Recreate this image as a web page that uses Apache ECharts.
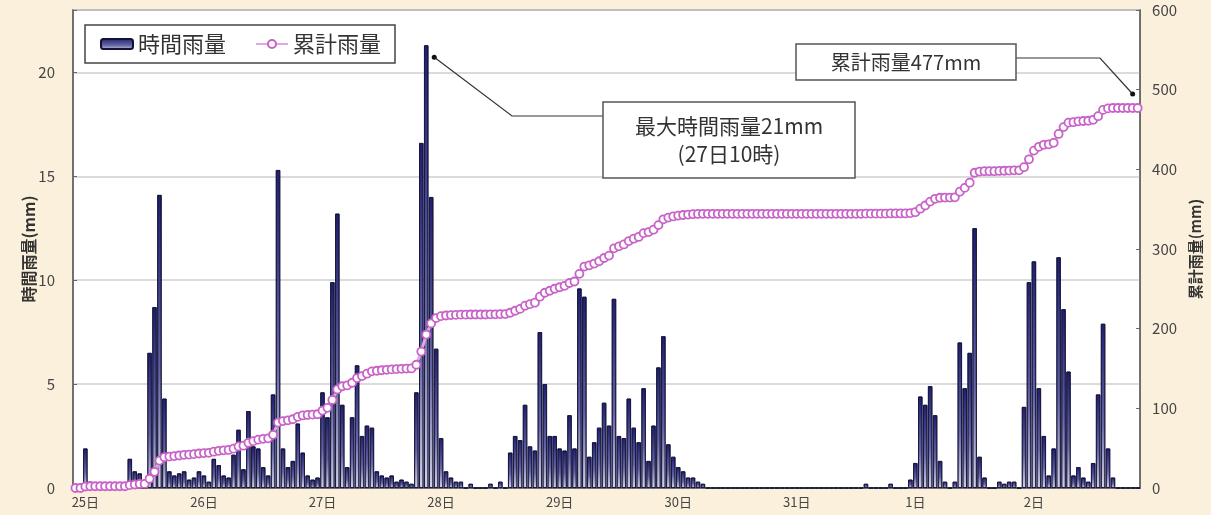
<!DOCTYPE html>
<html>
<head>
<meta charset="utf-8">
<script src="https://cdn.jsdelivr.net/npm/echarts@6/dist/echarts.min.js"></script>
<style>
html,body{margin:0;padding:0;background:#FBF0DB;}
#main{width:1211px;height:515px;}
</style>
</head>
<body>
<div id="main"></div>
<script>
// ---- tick labels / categories ----
const dayLabels = ['25日','26日','27日','28日','29日','30日','31日','1日','2日'];
const hoursPerDay = 24;

// ---- hourly rainfall (mm), one array per day ----
const rain25 = [0,0,1.9,0.3,0,0,0,0,0,0,0,1.4,0.8,0.7,0,6.5,8.7,14.1,4.3,0.8,0.6,0.7,0.8,0.4];
const rain26 = [0.5,0.8,0.6,0.3,1.4,1.1,0.6,0.5,1.6,2.8,0.9,3.7,2.0,1.9,1.0,0.6,4.5,15.3,1.9,1.0,1.3,3.1,1.7,0.6];
const rain27 = [0.4,0.5,4.6,3.4,9.9,13.2,4.0,1.0,3.4,5.9,2.5,3.0,2.9,0.8,0.6,0.5,0.6,0.3,0.4,0.3,0.2,4.6,16.6,21.3];
const rain28 = [14.0,6.7,2.4,0.8,0.5,0.3,0.3,0,0.2,0,0,0,0.2,0,0.3,0,1.7,2.5,2.3,4.0,2.0,1.8,7.5,5.0];
const rain29 = [2.5,2.5,1.9,1.8,3.5,1.9,9.6,9.2,1.5,2.2,2.9,4.1,3.0,9.1,2.5,2.4,4.3,2.9,2.2,4.8,1.3,3.0,5.8,7.3];
const rain30 = [2.1,1.5,1.0,0.8,0.5,0.5,0.3,0.2,0,0,0,0,0,0,0,0,0,0,0,0,0,0,0,0];
const rain31 = [0,0,0,0,0,0,0,0,0,0,0,0,0,0,0,0,0.2,0,0,0,0,0.2,0,0];
const rain01 = [0,0.4,1.2,4.4,4.0,4.9,3.5,1.3,0.3,0,0.3,7.0,4.8,6.5,12.5,1.5,0.5,0,0,0.3,0.2,0.3,0.3,0];
const rain02 = [3.9,9.9,10.9,4.8,2.5,0.6,1.9,11.1,8.6,5.6,0.6,1.0,0.5,0.3,1.2,4.5,7.9,1.9,0.5,0,0,0,0,0];

// ---- cumulative rainfall (mm) ----
const cum25 = [0,0,1.9,2.2,2.2,2.2,2.2,2.2,2.2,2.2,2.2,3.6,4.4,5.1,5.1,11.6,20.3,34.4,38.7,39.5,40.1,40.8,41.6,42.0];
const cum26 = [42.5,43.3,43.9,44.2,45.6,46.7,47.3,47.8,49.4,52.2,53.1,56.8,58.8,60.7,61.7,62.3,66.8,82.1,84.0,85.0,86.3,89.4,91.1,91.7];
const cum27 = [92.1,92.6,97.2,100.6,110.5,123.7,127.7,128.7,132.1,138.0,140.5,143.5,146.4,147.2,147.8,148.3,148.9,149.2,149.6,149.9,150.1,154.7,171.3,192.6];
const cum28 = [206.6,213.3,215.7,216.5,217.0,217.3,217.6,217.6,217.8,217.8,217.8,217.8,218.0,218.0,218.3,218.3,220.0,222.5,224.8,228.8,230.8,232.6,240.1,245.1];
const cum29 = [247.6,250.1,252.0,253.8,257.3,259.2,268.8,278.0,279.5,281.7,284.6,288.7,291.7,300.8,303.3,305.7,310.0,312.9,315.1,319.9,321.2,324.2,330.0,337.3];
const cum30 = [339.4,340.9,341.9,342.7,343.2,343.7,344.0,344.2,344.2,344.2,344.2,344.2,344.2,344.2,344.2,344.2,344.2,344.2,344.2,344.2,344.2,344.2,344.2,344.2];
const cum31 = [344.2,344.2,344.2,344.2,344.2,344.2,344.2,344.2,344.2,344.2,344.2,344.2,344.2,344.2,344.2,344.2,344.4,344.4,344.4,344.4,344.4,344.6,344.6,344.6];
const cum01 = [344.6,345.0,346.2,350.6,354.6,359.5,363.0,364.3,364.6,364.6,364.9,371.9,376.7,383.2,395.7,397.2,397.7,397.7,397.7,398.0,398.2,398.5,398.8,398.8];
const cum02 = [402.7,412.6,423.5,428.3,430.8,431.4,433.3,444.4,453.0,458.6,459.2,460.2,460.7,461.0,462.2,466.7,474.6,476.5,477.0,477.0,477.0,477.0,477.0,477.0];

const seriesNames = ['時間雨量','累計雨量'];
const leftAxisName = '時間雨量(mm)';
const rightAxisName = '累計雨量(mm)';
const noteMax = '最大時間雨量21mm\n(27日10時)';
const noteTotal = '累計雨量477mm';

const hourly = [].concat(rain25,rain26,rain27,rain28,rain29,rain30,rain31,rain01,rain02);
const cumulative = [].concat(cum25,cum26,cum27,cum28,cum29,cum30,cum31,cum01,cum02);
const categories = [];
dayLabels.forEach(d => { for (let h = 0; h < hoursPerDay; h++) categories.push(d + h + '時'); });

const FONT = '"Noto Sans CJK JP", "Noto Sans", sans-serif';

const chart = echarts.init(document.getElementById('main'));
const option = {
  backgroundColor: '#FBF0DB',
  animation: false,
  textStyle: { fontFamily: FONT },
  grid: {
    left: 73, right: 63, top: 10, bottom: 27,
    show: true, backgroundColor: '#ffffff', borderColor: '#6e6e6e', borderWidth: 1.5
  },
  legend: {
    left: 85, top: 25,
    padding: [8, 14, 8, 15],
    backgroundColor: '#ffffff',
    borderColor: '#444', borderWidth: 1.5,
    itemWidth: 32, itemHeight: 10, itemGap: 29,
    textStyle: { fontSize: 22, color: '#333', fontFamily: FONT },
    data: seriesNames
  },
  xAxis: {
    type: 'category',
    data: categories,
    axisLine: { lineStyle: { color: '#666', width: 1.5 } },
    axisTick: { show: false },
    axisLabel: {
      interval: (idx) => idx % hoursPerDay === 2,
      formatter: (v) => v.split('日')[0] + '日',
      fontSize: 13, color: '#444', margin: 8, fontFamily: FONT
    }
  },
  yAxis: [
    {
      type: 'value', min: 0, max: 23, interval: 5,
      name: leftAxisName, nameLocation: 'middle', nameRotate: 90, nameGap: 36,
      nameMoveOverlap: false,
      nameTextStyle: { fontSize: 16, color: '#333', fontWeight: 'bold', fontFamily: FONT },
      axisLine: { show: true, lineStyle: { color: '#666', width: 1.5 } },
      axisTick: { show: true, inside: true, length: 4, lineStyle: { color: '#666' } },
      axisLabel: { fontSize: 15, color: '#444', margin: 18, formatter: v => (v % 5 === 0 ? v : '') },
      splitLine: { show: true, lineStyle: { color: '#cfcfcf', width: 1.5 } }
    },
    {
      type: 'value', min: 0, max: 600, interval: 100,
      name: rightAxisName, nameLocation: 'middle', nameRotate: 90, nameGap: 47,
      nameTextStyle: { fontSize: 15, color: '#333', fontWeight: 'bold', fontFamily: FONT },
      axisLine: { show: true, lineStyle: { color: '#666', width: 1.5 } },
      axisTick: { show: true, inside: true, length: 4, lineStyle: { color: '#666' } },
      axisLabel: { fontSize: 15, color: '#444', margin: 12 },
      splitLine: { show: false }
    }
  ],
  series: [
    {
      name: seriesNames[0], type: 'bar', yAxisIndex: 0,
      data: hourly,
      barCategoryGap: '12%',
      itemStyle: {
        color: new echarts.graphic.LinearGradient(0, 0, 0, 1, [
          { offset: 0, color: '#1f1f6e' },
          { offset: 0.6, color: '#6464a6' },
          { offset: 1, color: '#d2d2e4' }
        ]),
        borderColor: '#12123a', borderWidth: 0.8
      },
      z: 2
    },
    {
      name: seriesNames[1], type: 'line', yAxisIndex: 1,
      data: cumulative,
      symbol: 'circle', symbolSize: 8, showAllSymbol: true,
      lineStyle: { color: '#E3A6E3', width: 3 },
      itemStyle: { color: '#ffffff', borderColor: '#C862C8', borderWidth: 1.8 },
      z: 3
    }
  ]
};
chart.setOption(option);

// annotations anchored to the data marks
let peakIdx = 0;
hourly.forEach((v, i) => { if (v > hourly[peakIdx]) peakIdx = i; });
const pk = chart.convertToPixel({ xAxisIndex: 0, yAxisIndex: 0 }, [peakIdx, hourly[peakIdx]]);
const lastIdx = cumulative.length - 1;
const ce = chart.convertToPixel({ xAxisIndex: 0, yAxisIndex: 1 }, [lastIdx, cumulative[lastIdx]]);

const p1 = [pk[0] + 8, pk[1] + 12];
const p2 = [ce[0] - 5, ce[1] - 14];
chart.setOption({
  graphic: [
    { type: 'polyline', shape: { points: [p1, [512, 116], [603, 116]] }, style: { stroke: '#333', lineWidth: 1.2, fill: null }, z: 10 },
    { type: 'circle', shape: { cx: p1[0], cy: p1[1], r: 2.5 }, style: { fill: '#111' }, z: 11 },
    { type: 'rect', shape: { x: 603, y: 102, width: 252, height: 76 }, style: { fill: '#fff', stroke: '#555', lineWidth: 1.5 }, z: 10 },
    { type: 'text', x: 729, y: 140, style: { text: noteMax, fontSize: 21, lineHeight: 28, fill: '#333', align: 'center', verticalAlign: 'middle', fontFamily: FONT }, z: 11 },
    { type: 'polyline', shape: { points: [[1016, 58], [1100, 58], p2] }, style: { stroke: '#333', lineWidth: 1.2, fill: null }, z: 10 },
    { type: 'circle', shape: { cx: p2[0], cy: p2[1], r: 2.5 }, style: { fill: '#111' }, z: 11 },
    { type: 'rect', shape: { x: 796, y: 44, width: 220, height: 36 }, style: { fill: '#fff', stroke: '#555', lineWidth: 1.5 }, z: 10 },
    { type: 'text', x: 906, y: 62, style: { text: noteTotal, fontSize: 20, fill: '#333', align: 'center', verticalAlign: 'middle', fontFamily: FONT }, z: 11 }
  ]
});
</script>
</body>
</html>
